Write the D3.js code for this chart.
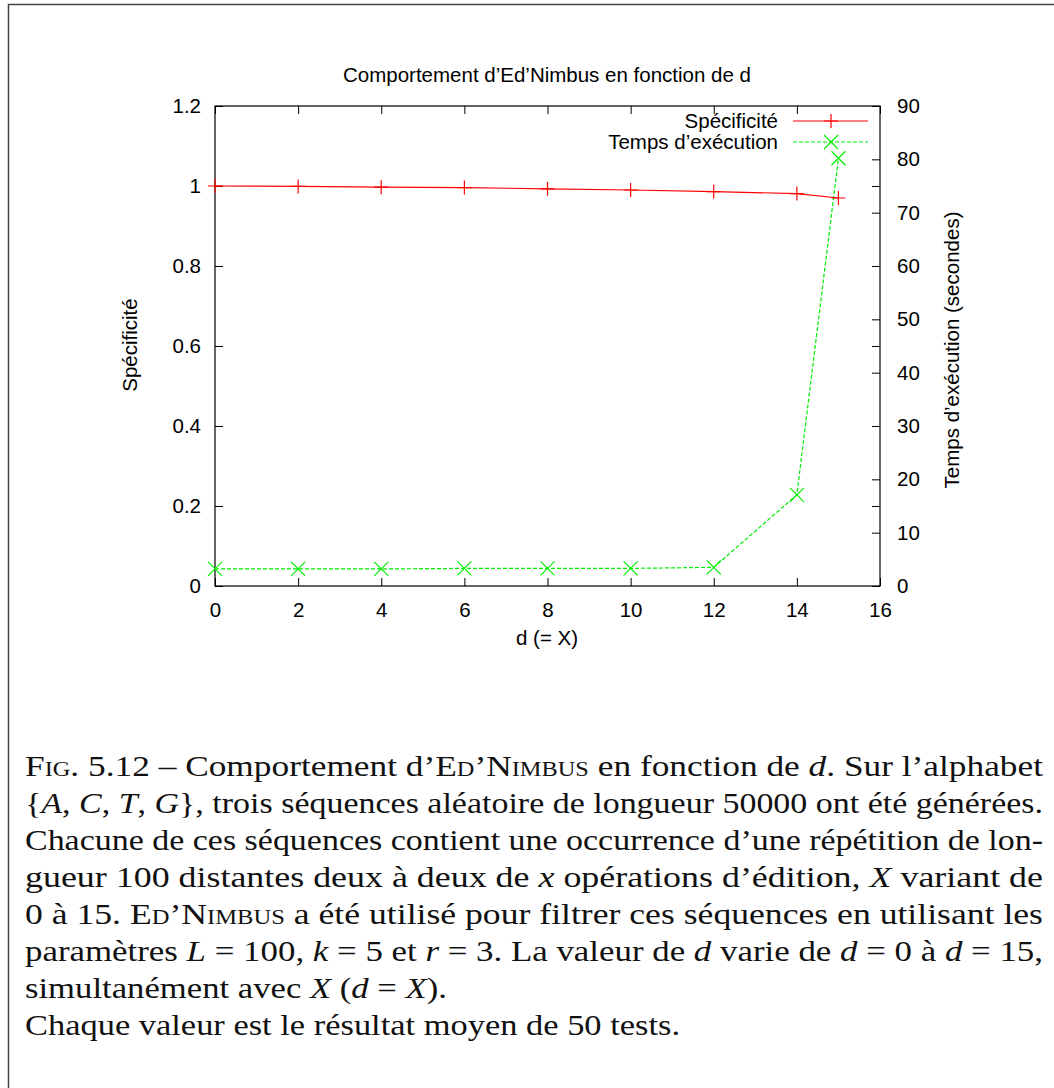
<!DOCTYPE html>
<html><head><meta charset="utf-8">
<script src="https://cdn.jsdelivr.net/npm/d3@7"></script>
<style>
body{margin:0;background:#fff;}
svg{display:block;}
.ax text{font-family:"Liberation Sans",Arial,sans-serif;font-size:20.5px;fill:#000;}
.ax path,.ax line{stroke:#000;stroke-width:1;}
</style></head><body>
<svg id="c" width="1054" height="1088"></svg>
<script>
const title = "Comportement d\u2019Ed\u2019Nimbus en fonction de d";
const xLabel = "d (= X)";
const yLabel = "Sp\u00e9cificit\u00e9";
const y2Label = "Temps d\u2019ex\u00e9cution (secondes)";
const seriesNames = ["Sp\u00e9cificit\u00e9", "Temps d\u2019ex\u00e9cution"];
const dValues = [0, 2, 4, 6, 8, 10, 12, 14, 15];
const specificite = [1.0, 0.999, 0.997, 0.996, 0.993, 0.990, 0.986, 0.981, 0.970];
const tempsExec = [3.2, 3.2, 3.2, 3.3, 3.3, 3.3, 3.5, 17.1, 80.2];
const xTicks = [0, 2, 4, 6, 8, 10, 12, 14, 16];
const yTicks = [0, 0.2, 0.4, 0.6, 0.8, 1, 1.2];
const y2Ticks = [0, 10, 20, 30, 40, 50, 60, 70, 80, 90];

const svg = d3.select("#c");
svg.append("rect").attr("x", 8.5).attr("y", 4.5).attr("width", 1100).attr("height", 1200)
  .attr("fill", "none").attr("stroke", "#444").attr("stroke-width", 1.5);

const L = 215, R = 880, T = 106, B = 586;
const x = d3.scaleLinear().domain([0, 16]).range([L, R]);
const y = d3.scaleLinear().domain([0, 1.2]).range([B, T]);
const y2 = d3.scaleLinear().domain([0, 90]).range([B, T]);
const fmt = d => String(d);

svg.append("g").attr("class", "ax").attr("transform", `translate(0,${B})`)
  .call(d3.axisBottom(x).tickValues(xTicks).tickFormat(fmt).tickSize(-8).tickPadding(16).tickSizeOuter(0));
svg.append("g").attr("class", "ax").attr("transform", `translate(0,${T})`)
  .call(d3.axisTop(x).tickValues(xTicks).tickFormat("").tickSize(-8).tickSizeOuter(0));
svg.append("g").attr("class", "ax").attr("transform", `translate(${L},0)`)
  .call(d3.axisLeft(y).tickValues(yTicks).tickFormat(fmt).tickSize(-8).tickPadding(14).tickSizeOuter(0));
svg.append("g").attr("class", "ax").attr("transform", `translate(${R},0)`)
  .call(d3.axisRight(y).tickValues(yTicks).tickFormat("").tickSize(-8).tickSizeOuter(0));
svg.append("g").attr("class", "ax").attr("transform", `translate(${R},0)`)
  .call(d3.axisRight(y2).tickValues(y2Ticks).tickFormat(fmt).tickSize(-8).tickPadding(17).tickSizeOuter(0));
svg.selectAll(".ax .domain").remove();
svg.append("rect").attr("x", L).attr("y", T).attr("width", R - L).attr("height", B - T)
  .attr("fill", "none").attr("stroke", "#000").attr("stroke-width", 1.2);

const sans = '"Liberation Sans",Arial,sans-serif';
const fs = 20.5;
svg.append("text").attr("x", 547).attr("y", 82).attr("text-anchor", "middle")
  .attr("font-family", sans).attr("font-size", fs).text(title);
svg.append("text").attr("x", 547).attr("y", 645).attr("text-anchor", "middle")
  .attr("font-family", sans).attr("font-size", fs).text(xLabel);
svg.append("text").attr("transform", "translate(137,345) rotate(-90)").attr("text-anchor", "middle")
  .attr("font-family", sans).attr("font-size", fs).text(yLabel);
svg.append("text").attr("transform", "translate(959,350) rotate(-90)").attr("text-anchor", "middle")
  .attr("font-family", sans).attr("font-size", fs).text(y2Label);

const red = "#ff0000", green = "#00ee00";
const specData = dValues.map((d, i) => [d, specificite[i]]);
const timeData = dValues.map((d, i) => [d, tempsExec[i]]);

const plus = (g, cx, cy, c) => {
  g.append("path").attr("d", `M${cx - 7},${cy}H${cx + 7}M${cx},${cy - 7}V${cy + 7}`).attr("stroke", c).attr("stroke-width", 1.2);
};
const cross = (g, cx, cy, c) => {
  g.append("path").attr("d", `M${cx - 7},${cy - 7}L${cx + 7},${cy + 7}M${cx - 7},${cy + 7}L${cx + 7},${cy - 7}`).attr("stroke", c).attr("stroke-width", 1.2);
};

svg.append("path").datum(timeData).attr("fill", "none").attr("stroke", green).attr("stroke-width", 1.2)
  .attr("stroke-dasharray", "4,2").attr("d", d3.line().x(d => x(d[0])).y(d => y2(d[1])));
const gt = svg.append("g");
timeData.forEach(d => cross(gt, x(d[0]), y2(d[1]), green));

svg.append("path").datum(specData).attr("fill", "none").attr("stroke", red).attr("stroke-width", 1.2)
  .attr("d", d3.line().x(d => x(d[0])).y(d => y(d[1])));
const gs = svg.append("g");
specData.forEach(d => plus(gs, x(d[0]), y(d[1]), red));

const lg = svg.append("g");
const legY = [121, 142];
const colors = [red, green];
seriesNames.forEach((n, i) => {
  lg.append("text").attr("x", 778).attr("y", legY[i] + 7).attr("text-anchor", "end")
    .attr("font-family", sans).attr("font-size", fs).text(n);
  lg.append("line").attr("x1", 793).attr("x2", 868).attr("y1", legY[i]).attr("y2", legY[i])
    .attr("stroke", colors[i]).attr("stroke-width", 1.2).attr("stroke-dasharray", i ? "4,2" : null);
  if (i === 0) plus(lg, 831, legY[i], red); else cross(lg, 831, legY[i], green);
});

// caption
const serif = '"Liberation Serif","DejaVu Serif",serif';
const captionLines = [
  [["n","F"],["sc","ig"],["n",". 5.12 \u2013 Comportement d\u2019"],["n","E"],["sc","d"],["n","\u2019N"],["sc","imbus"],["n"," en fonction de "],["i","d"],["n",". Sur l\u2019alphabet"]],
  [["n","{"],["i","A"],["n",", "],["i","C"],["n",", "],["i","T"],["n",", "],["i","G"],["n","}, trois s\u00e9quences al\u00e9atoire de longueur 50000 ont \u00e9t\u00e9 g\u00e9n\u00e9r\u00e9es."]],
  [["n","Chacune de ces s\u00e9quences contient une occurrence d\u2019une r\u00e9p\u00e9tition de lon-"]],
  [["n","gueur 100 distantes deux \u00e0 deux de "],["i","x"],["n"," op\u00e9rations d\u2019\u00e9dition, "],["i","X"],["n"," variant de"]],
  [["n","0 \u00e0 15. "],["n","E"],["sc","d"],["n","\u2019N"],["sc","imbus"],["n"," a \u00e9t\u00e9 utilis\u00e9 pour filtrer ces s\u00e9quences en utilisant les"]],
  [["n","param\u00e8tres "],["i","L"],["n"," = 100, "],["i","k"],["n"," = 5 et "],["i","r"],["n"," = 3. La valeur de "],["i","d"],["n"," varie de "],["i","d"],["n"," = 0 \u00e0 "],["i","d"],["n"," = 15,"]],
  [["n","simultan\u00e9ment avec "],["i","X"],["n"," ("],["i","d"],["n"," = "],["i","X"],["n",")."]],
  [["n","Chaque valeur est le r\u00e9sultat moyen de 50 tests."]]
];
const lineWidths = [1018, 1018, 1018, 1018, 1018, 1018, 422, 655];
captionLines.forEach((parts, li) => {
  const t = svg.append("text").attr("x", 25).attr("y", 776 + li * 37)
    .attr("font-family", serif).attr("font-size", 29).attr("fill", "#111")
    .attr("textLength", lineWidths[li]).attr("lengthAdjust", "spacingAndGlyphs");
  parts.forEach(([k, s]) => {
    const ts = t.append("tspan").text(s);
    if (k === "i") ts.attr("font-style", "italic");
    if (k === "sc") ts.attr("font-variant", "small-caps");
  });
});
</script>
</body></html>
